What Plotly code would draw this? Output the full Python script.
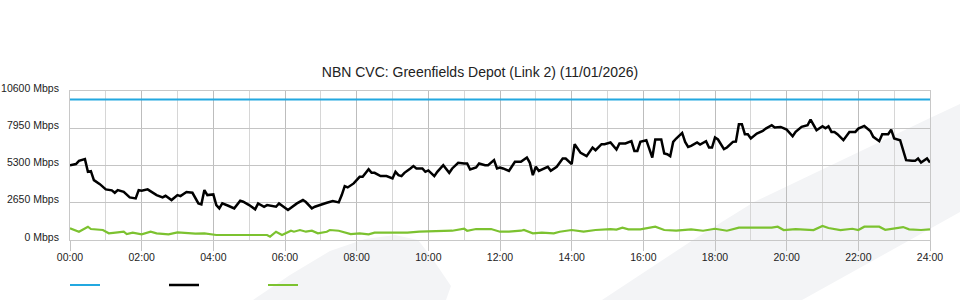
import plotly.graph_objects as go

# ---------------- data ----------------
title_text = "NBN CVC: Greenfields Depot (Link 2) (11/01/2026)"

y_tick_values = [0, 2650, 5300, 7950, 10600]
y_tick_labels = ["0 Mbps", "2650 Mbps", "5300 Mbps", "7950 Mbps", "10600 Mbps"]
x_tick_hours = [0, 2, 4, 6, 8, 10, 12, 14, 16, 18, 20, 22, 24]
x_tick_labels = ["00:00", "02:00", "04:00", "06:00", "08:00", "10:00", "12:00",
                 "14:00", "16:00", "18:00", "20:00", "22:00", "24:00"]

capacity_minutes = [0, 1440]
capacity_mbps = [10000, 10000]

download_minutes = [
    0, 10, 15, 25, 30, 35, 40, 50, 60, 70,
    75, 80, 90, 100, 110, 115, 120, 130, 145, 155,
    160, 170, 180, 185, 195, 205, 215, 220, 225, 230,
    240, 245, 250, 255, 265, 275, 285, 290, 300, 310,
    315, 325, 330, 345, 350, 360, 365, 380, 390, 395,
    405, 410, 420, 430, 440, 450, 455, 460, 465, 475,
    485, 490, 500, 505, 510, 520, 530, 540, 545, 550,
    555, 560, 570, 575, 580, 590, 595, 600, 610, 615,
    625, 635, 640, 650, 660, 665, 670, 680, 685, 695,
    700, 710, 715, 720, 725, 735, 745, 755, 765, 770,
    775, 780, 785, 800, 805, 815, 825, 830, 840, 845,
    855, 865, 875, 880, 890, 895, 905, 915, 920, 930,
    940, 945, 950, 955, 965, 970, 975, 980, 990, 995,
    1000, 1005, 1010, 1015, 1025, 1030, 1035, 1040, 1050, 1055,
    1065, 1070, 1075, 1080, 1085, 1095, 1100, 1110, 1115, 1120,
    1125, 1130, 1135, 1140, 1150, 1160, 1165, 1175, 1180, 1190,
    1200, 1210, 1215, 1225, 1235, 1240, 1250, 1260, 1265, 1270,
    1275, 1280, 1285, 1295, 1305, 1315, 1320, 1330, 1340, 1345,
    1355, 1360, 1370, 1375, 1380, 1390, 1395, 1400, 1410, 1415,
    1420, 1425, 1435, 1440,
]
download_mbps = [
    5325, 5400, 5630, 5750, 4850, 4900, 4260, 3975, 3600, 3530,
    3360, 3550, 3430, 3030, 2960, 3550, 3500, 3600, 3195, 3030,
    3145, 2840, 3195, 3125, 3410, 3360, 2605, 2535, 3550, 3195,
    3245, 2485, 2250, 2605, 2435, 2250, 2790, 2720, 2485, 2180,
    2605, 2365, 2485, 2365, 2605, 2320, 2130, 2605, 2840, 2700,
    2250, 2365, 2535, 2650, 2770, 2675, 3195, 3835, 3740, 4025,
    4495, 4495, 5040, 4780, 4780, 4545, 4545, 4380, 4850, 4615,
    4545, 4780, 5090, 5255, 5090, 5090, 4850, 4950, 4545, 4850,
    5325, 4780, 5090, 5490, 5440, 5440, 5020, 5160, 5440, 5325,
    5325, 5680, 5090, 5160, 5090, 4920, 5560, 5560, 5870, 5490,
    4615, 5210, 4920, 5210, 4920, 5210, 5800, 5800, 5395, 6815,
    6200, 5965, 6580, 6390, 6815, 6815, 6935, 6440, 6865, 6865,
    7030, 6340, 6340, 6980, 7100, 6440, 5870, 7150, 7150, 6150,
    6100, 5965, 6980, 7220, 7620, 6980, 6625, 6700, 6935, 6790,
    7030, 6580, 6580, 7290, 7150, 6460, 6580, 6980, 7000, 8235,
    8235, 7525, 7525, 7220, 7575, 7760, 7925, 8165, 8000, 8045,
    7855, 7380, 7690, 8045, 8165, 8570, 7810, 8095, 7950, 8095,
    7690, 7690, 7525, 7100, 7690, 7690, 7925, 8115, 7760, 7335,
    7030, 7525, 7525, 7855, 7220, 7100, 6390, 5680, 5630, 5630,
    5800, 5515, 5800, 5515,
]

upload_minutes = [
    0, 15, 30, 35, 55, 65, 80, 90, 95, 105,
    120, 135, 145, 165, 180, 210, 225, 245, 330, 335,
    345, 355, 370, 375, 385, 395, 405, 415, 430, 435,
    450, 470, 485, 500, 510, 565, 585, 615, 640, 660,
    665, 680, 705, 720, 735, 755, 760, 775, 790, 810,
    820, 840, 860, 880, 905, 915, 925, 935, 955, 980,
    995, 1015, 1040, 1060, 1080, 1100, 1120, 1175, 1185, 1195,
    1215, 1245, 1260, 1270, 1290, 1310, 1320, 1330, 1355, 1365,
    1395, 1405, 1425, 1440,
]
upload_mbps = [
    830, 590, 945, 780, 710, 475, 545, 590, 425, 520,
    405, 590, 475, 405, 545, 450, 475, 355, 355, 235,
    590, 355, 660, 590, 710, 590, 660, 475, 590, 710,
    660, 425, 475, 405, 520, 520, 590, 640, 660, 800,
    660, 780, 780, 590, 590, 660, 710, 475, 520, 475,
    590, 710, 590, 710, 780, 740, 875, 760, 760, 945,
    710, 660, 760, 660, 800, 660, 875, 875, 945, 710,
    780, 710, 995, 850, 710, 800, 710, 945, 945, 730,
    920, 760, 710, 760,
]

# ---------------- style ----------------
FONT = "Liberation Sans, Arial, sans-serif"
BLUE = "#23a8e0"
BLACK = "#000000"
GREEN = "#7cc230"
WATERMARK = "#f3f4f6"

PL, PR, PT, PB = 70, 930, 91, 240  # plot area in pixels


def to_hours(mins):
    return [m / 60.0 for m in mins]


def px_path(points):
    pts = [f"{(x - PL) / (PR - PL):.4f},{(PB - y) / (PB - PT):.4f}" for x, y in points]
    return "M " + " L ".join(pts) + " Z"


fig = go.Figure()
fig.add_trace(go.Scatter(x=to_hours(capacity_minutes), y=capacity_mbps, mode="lines",
                         name=" ", line=dict(color=BLUE, width=2)))
fig.add_trace(go.Scatter(x=to_hours(download_minutes), y=download_mbps, mode="lines",
                         name=" ", line=dict(color=BLACK, width=2.5)))
fig.add_trace(go.Scatter(x=to_hours(upload_minutes), y=upload_mbps, mode="lines",
                         name=" ", line=dict(color=GREEN, width=2.2)))

stripe = [(602, 300), (693, 240), (754, 202), (930, 118), (960, 104),
          (960, 212), (910, 240), (802, 300)]
blob = [(253, 300), (290, 275), (330, 251), (365, 239), (395, 235),
        (418, 240), (432, 258), (451, 286), (446, 300)]
shapes = [
    dict(type="path", xref="paper", yref="paper", path=px_path(stripe),
         fillcolor=WATERMARK, line=dict(width=0), layer="below"),
    dict(type="path", xref="paper", yref="paper", path=px_path(blob),
         fillcolor=WATERMARK, line=dict(width=0), layer="below"),
]

fig.update_layout(
    width=960, height=300,
    margin=dict(l=PL, r=960 - PR, t=PT, b=300 - PB, autoexpand=False),
    paper_bgcolor="white", plot_bgcolor="rgba(0,0,0,0)",
    font=dict(family=FONT, size=10.5, color="#222222"),
    title=dict(text=title_text, x=0.5, xref="container", xanchor="center",
               y=1 - 72 / 300, yref="container", yanchor="middle",
               font=dict(family=FONT, size=14, color="#222222")),
    showlegend=True,
    legend=dict(orientation="h", x=-5 / (PR - PL), xanchor="left",
                y=1 - 285 / 300, yref="container",
                yanchor="middle", entrywidth=54, entrywidthmode="pixels",
                itemwidth=30, font=dict(size=10), bgcolor="rgba(0,0,0,0)"),
    shapes=shapes,
    hovermode=False,
)

fig.update_xaxes(
    range=[0, 24], tickmode="array", tickvals=x_tick_hours, ticktext=x_tick_labels,
    showgrid=True, gridcolor="#bdbdbd", gridwidth=1,
    minor=dict(dtick=1, tick0=0, showgrid=True, gridcolor="#d6d6d6", gridwidth=1),
    ticks="outside", ticklen=10, tickcolor="#c4c4c4", tickwidth=1,
    ticklabelstandoff=-3,
    showline=True, mirror=True, linecolor="#c8c8c8", linewidth=1,
    zeroline=False, automargin=False, tickfont=dict(size=10.5, color="#222222"),
)
fig.update_yaxes(
    range=[0, 10600], tickmode="array", tickvals=y_tick_values, ticktext=y_tick_labels,
    showgrid=True, gridcolor="#c4c4c4", gridwidth=1,
    ticks="", ticklabelstandoff=8, ticklabelshift=-3,
    showline=True, mirror=True, linecolor="#c8c8c8", linewidth=1,
    zeroline=False, automargin=False, tickfont=dict(size=10.5, color="#222222"),
)

fig.write_html("out.html", config={"displayModeBar": False})
